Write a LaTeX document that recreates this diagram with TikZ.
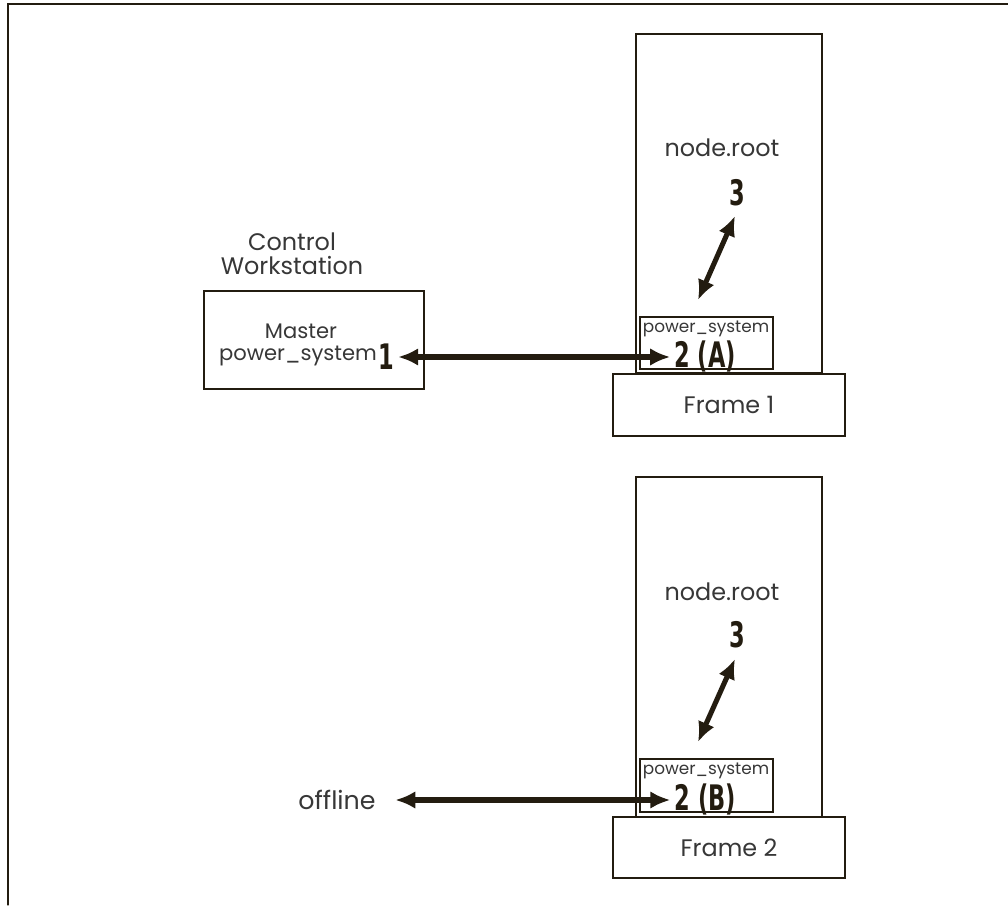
\documentclass[tikz,border=0pt]{standalone}
\usepackage{fontspec}
\setmainfont{Poppins}
\newfontfamily\numfont{DejaVu Sans}
\usepackage{tikz}
\usetikzlibrary{arrows.meta}
\definecolor{ink}{RGB}{35,28,16}
\definecolor{txt}{RGB}{55,55,55}
\newcommand{\bignum}[1]{\scalebox{0.8}[1.25]{\numfont\bfseries #1}}

\begin{document}
\begin{tikzpicture}[
  line cap=round,
  box/.style={draw=ink,line width=1.6pt,inner sep=0pt},
  lbl/.style={text=txt,font=\fontsize{17}{20}\selectfont,inner sep=1pt},
  small/.style={text=txt,font=\fontsize{12}{14}\selectfont,inner sep=0pt},
  num/.style={text=ink,font=\fontsize{20}{24}\selectfont,inner sep=0pt},
  link/.style={{Latex[length=5mm,width=4.4mm]}-{Latex[length=5mm,width=4.4mm]},draw=ink,line width=3.6pt,line cap=butt}]
\useasboundingbox (0,0) rectangle (25.2,22.625);
% page edge
\draw[ink,line width=0.9pt] (0.2,0) -- (0.2,22.525) -- (25.2,22.525);

% control workstation
\node[box,minimum width=5.5cm,minimum height=2.45cm] (cws) at (7.85,14.125) {};
\node[lbl,align=center] (cwsname) at (7.3,16.275) {Control\\[-3pt]Workstation};
\node[lbl,inner sep=0pt,font=\fontsize{15}{18}\selectfont] (master) at (7.525,14.35) {Master};
\node[lbl,inner sep=0pt,font=\fontsize{15}{18}\selectfont] (mps) at (7.45,13.73) {power\_system};
\node[num] (one) at (9.65,13.7) {\bignum{1}};

% frame 1
\node[box,minimum width=4.65cm,minimum height=8.475cm] (tower1) at (18.225,17.5375) {};
\node[box,minimum width=5.8cm,minimum height=1.55cm] (frame1) at (18.225,12.5) {};
\node[lbl] at (frame1) {Frame 1};
\node[box,minimum width=3.325cm,minimum height=1.3cm] (psA) at (17.6625,14.05) {};
\node[small] (psAname) at (17.65,14.4) {power\_system};
\node[num] (twoA) at (17.63,13.72) {\bignum{2 (A)}};
\node[lbl] (root1) at (18.05,18.925) {node.root};
\node[num] (threeA) at (18.425,17.8) {\bignum{3}};
\coordinate (lowA) at (17.45,15.125);
\coordinate (upA) at (18.375,17.225);

% frame 2
\node[box,minimum width=4.65cm,minimum height=8.5cm] (tower2) at (18.225,6.45) {};
\node[box,minimum width=5.8cm,minimum height=1.525cm] (frame2) at (18.225,1.4375) {};
\node[lbl] at (frame2) {Frame 2};
\node[box,minimum width=3.325cm,minimum height=1.325cm] (psB) at (17.6625,2.9875) {};
\node[small] (psBname) at (17.65,3.35) {power\_system};
\node[num] (twoB) at (17.63,2.65) {\bignum{2 (B)}};
\node[lbl] (root2) at (18.05,7.825) {node.root};
\node[num] (threeB) at (18.425,6.75) {\bignum{3}};
\coordinate (lowB) at (17.45,4.075);
\coordinate (upB) at (18.375,6.15);
\node[lbl,font=\fontsize{18}{20}\selectfont] (offline) at (8.425,2.625) {offline};

% links
\draw[link] (one.east) ++(0.1,0) -- ([xshift=-0.1cm]twoA.west |- one.east);
\draw[link] (lowA) -- (upA);
\draw[link] (offline.east) ++(0.45,0) -- ([xshift=-0.1cm]twoB.west |- offline.east);
\draw[link] (lowB) -- (upB);
\end{tikzpicture}
\end{document}
